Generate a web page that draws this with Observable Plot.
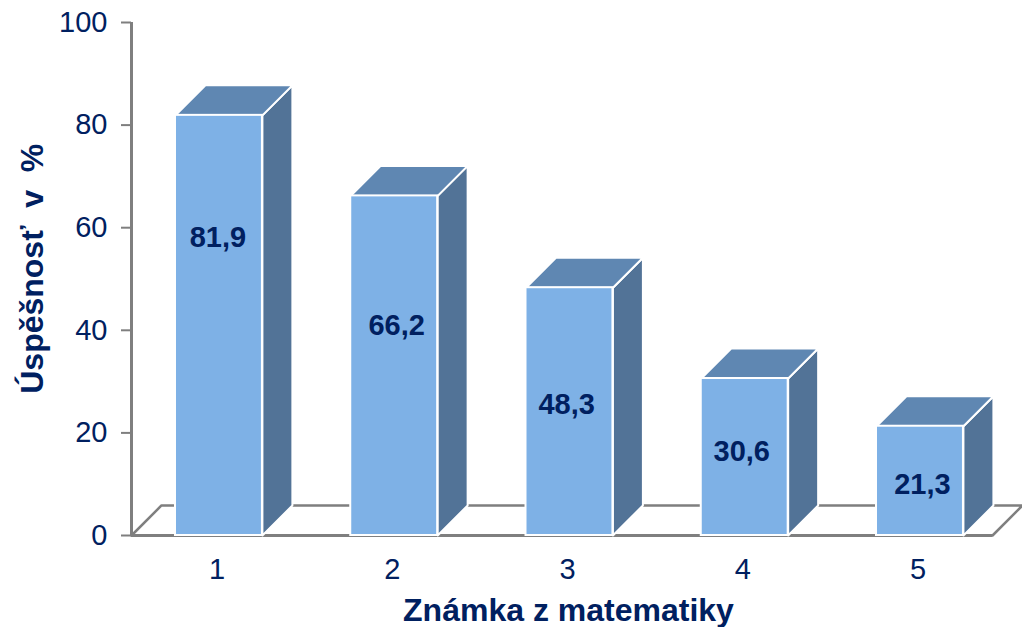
<!DOCTYPE html>
<html><head><meta charset="utf-8">
<script src="https://cdn.jsdelivr.net/npm/d3@7"></script>
<script src="https://cdn.jsdelivr.net/npm/@observablehq/plot@0.6"></script>
<style>html,body{margin:0;padding:0;background:#fff}svg{display:block}</style>
</head><body><div id="chart"></div>
<script>
const grades = [1, 2, 3, 4, 5];
const values = [81.9, 66.2, 48.3, 30.6, 21.3];
const valueLabels = ["81,9", "66,2", "48,3", "30,6", "21,3"];
const labelHeights = [58.1, 40.9, 25.5, 16.4, 9.9];
const labelCenters = [0.994, 2.014, 2.984, 3.983, 5.014];
const yTicks = [0, 20, 40, 60, 80, 100];

const navy = "#002060", grey = "#7f7f7f";
const halfW = 0.248, depthX = 0.171, depthY = 5.85;

const poly = (id, pts) => [...pts, pts[0]].map(([x, y]) => ({id, x, y}));
const tops = grades.flatMap((g, i) => poly("t" + i, [
  [g - halfW, values[i]], [g + halfW, values[i]],
  [g + halfW + depthX, values[i] + depthY], [g - halfW + depthX, values[i] + depthY]]));
const sides = grades.flatMap((g, i) => poly("s" + i, [
  [g + halfW, 0], [g + halfW, values[i]],
  [g + halfW + depthX, values[i] + depthY], [g + halfW + depthX, depthY]]));
const floorLeft = 0.501, floorRight = 5.414;
const floor = [
  {x: floorLeft, y: 0}, {x: floorLeft + depthX, y: depthY},
  {x: floorRight + depthX, y: depthY}, {x: floorRight, y: 0}];
const table = grades.map((g, i) => ({g, v: values[i], label: valueLabels[i], h: labelHeights[i], c: labelCenters[i]}));

const plot = Plot.plot({
  width: 1022, height: 627,
  marginLeft: 131, marginRight: 0, marginTop: 22, marginBottom: 92,
  style: {fontFamily: "'Liberation Sans', Arial, sans-serif", background: "#fff", overflow: "visible"},
  x: {type: "linear", domain: [0.501, 5.585]},
  y: {domain: [0, 100]},
  marks: [
    Plot.line(floor, {x: "x", y: "y", stroke: grey, strokeWidth: 2.5, curve: "linear"}),
    Plot.ruleY([0], {x1: floorLeft, x2: floorRight, stroke: grey, strokeWidth: 3}),
    Plot.ruleX([floorLeft], {y1: 0, y2: 100, stroke: grey, strokeWidth: 3}),
    Plot.axisY({ticks: yTicks, tickSize: 10, tickPadding: 14, stroke: grey, strokeWidth: 2,
      fontSize: 29, fill: navy, label: null, tickFormat: d => d, textStroke: "none"}),
    Plot.axisX({ticks: grades, tickSize: 0, tickPadding: 23, fontSize: 29, fill: navy, label: null,
      tickFormat: d => d, dx: -2}),
    Plot.line(sides, {x: "x", y: "y", z: "id", fill: "#527397", stroke: "#fff", strokeWidth: 2, curve: "linear"}),
    Plot.line(tops, {x: "x", y: "y", z: "id", fill: "#5F87B2", stroke: "#fff", strokeWidth: 2, curve: "linear"}),
    Plot.rect(table, {x1: d => d.g - halfW, x2: d => d.g + halfW, y1: 0, y2: "v",
      fill: "#7EB1E6", stroke: "#fff", strokeWidth: 2}),
    Plot.text(table, {x: "c", y: "h", text: "label", fontSize: 29, fontWeight: "bold", fill: navy}),
    Plot.text(["Známka z matematiky"], {x: () => 3, frameAnchor: "bottom", dy: 75,
      fontSize: 32, fontWeight: "bold", fill: navy, lineAnchor: "middle", dx: -1}),
    Plot.text(["Úspěšnosť\u00a0 v\u00a0 %"], {y: () => 52, frameAnchor: "left", dx: -99, rotate: -90,
      textAnchor: "middle", fontSize: 32, fontWeight: "bold", fill: navy})
  ]
});
document.getElementById("chart").append(plot);
</script></body></html>
